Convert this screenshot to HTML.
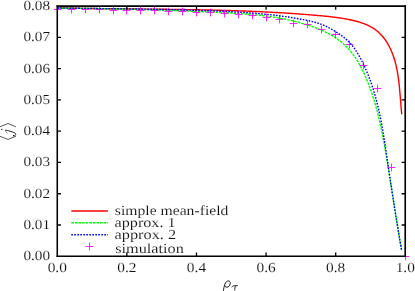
<!DOCTYPE html>
<html><head><meta charset="utf-8"><title>plot</title>
<style>
html,body{margin:0;padding:0;background:#fff;}
body{width:415px;height:291px;overflow:hidden;font-family:"Liberation Serif",serif;}
svg{display:block;}
text{font-family:"Liberation Serif",serif;font-size:13.8px;fill:#111;text-rendering:geometricPrecision;stroke:#fff;stroke-width:0.1px;}
</style></head><body>
<svg width="415" height="291" viewBox="0 0 415 291">
<rect width="415" height="291" fill="#fff"/>
<g style="will-change:transform">
<!-- curves -->
<path d="M57.32,7.83 L58.35,7.86 L59.38,7.88 L60.41,7.91 L61.44,7.93 L62.47,7.95 L63.50,7.98 L64.53,8.00 L65.56,8.03 L66.59,8.05 L67.62,8.07 L68.65,8.09 L69.69,8.11 L70.72,8.14 L71.75,8.16 L72.78,8.18 L73.81,8.20 L74.84,8.22 L75.87,8.24 L76.90,8.26 L77.93,8.28 L78.96,8.29 L79.99,8.31 L81.02,8.33 L82.06,8.35 L83.09,8.37 L84.12,8.38 L85.15,8.40 L86.18,8.42 L87.21,8.43 L88.24,8.45 L89.27,8.47 L90.31,8.48 L91.34,8.50 L92.37,8.51 L93.40,8.53 L94.43,8.54 L95.46,8.56 L96.49,8.57 L97.53,8.58 L98.56,8.60 L99.59,8.61 L100.62,8.62 L101.65,8.64 L102.69,8.65 L103.72,8.66 L104.75,8.68 L105.78,8.69 L106.81,8.70 L107.84,8.71 L108.88,8.73 L109.91,8.74 L110.94,8.75 L111.97,8.76 L113.01,8.77 L114.04,8.78 L115.07,8.80 L116.10,8.81 L117.13,8.82 L118.17,8.83 L119.20,8.84 L120.23,8.85 L121.26,8.86 L122.30,8.87 L123.33,8.88 L124.36,8.89 L125.39,8.90 L126.42,8.91 L127.46,8.92 L128.49,8.93 L129.52,8.94 L130.55,8.95 L131.59,8.96 L132.62,8.97 L133.65,8.98 L134.68,8.99 L135.72,9.00 L136.75,9.01 L137.78,9.02 L138.82,9.03 L139.85,9.04 L140.88,9.05 L141.91,9.06 L142.95,9.07 L143.98,9.08 L145.01,9.09 L146.04,9.10 L147.08,9.11 L148.11,9.12 L149.14,9.13 L150.17,9.14 L151.21,9.15 L152.24,9.16 L153.27,9.17 L154.31,9.18 L155.34,9.20 L156.37,9.21 L157.40,9.22 L158.44,9.23 L159.47,9.24 L160.50,9.25 L161.53,9.26 L162.57,9.27 L163.60,9.28 L164.63,9.30 L165.67,9.31 L166.70,9.32 L167.73,9.33 L168.76,9.34 L169.80,9.36 L170.83,9.37 L171.86,9.38 L172.89,9.39 L173.93,9.41 L174.96,9.42 L175.99,9.43 L177.03,9.45 L178.06,9.46 L179.09,9.48 L180.12,9.49 L181.16,9.51 L182.19,9.52 L183.22,9.53 L184.25,9.55 L185.29,9.57 L186.32,9.58 L187.35,9.60 L188.39,9.61 L189.42,9.63 L190.45,9.65 L191.48,9.66 L192.52,9.68 L193.55,9.70 L194.58,9.72 L195.61,9.73 L196.65,9.75 L197.68,9.77 L198.71,9.79 L199.74,9.81 L200.78,9.83 L201.81,9.85 L202.84,9.87 L203.87,9.89 L204.90,9.91 L205.94,9.93 L206.97,9.96 L208.00,9.98 L209.03,10.00 L210.07,10.02 L211.10,10.05 L212.13,10.07 L213.16,10.09 L214.20,10.12 L215.23,10.14 L216.26,10.17 L217.29,10.19 L218.32,10.22 L219.36,10.25 L220.39,10.27 L221.42,10.30 L222.45,10.33 L223.48,10.36 L224.52,10.39 L225.55,10.41 L226.58,10.44 L227.61,10.47 L228.64,10.50 L229.67,10.54 L230.71,10.57 L231.74,10.60 L232.77,10.63 L233.80,10.66 L234.83,10.70 L235.86,10.73 L236.89,10.76 L237.93,10.80 L238.96,10.84 L239.99,10.87 L241.02,10.91 L242.05,10.94 L243.08,10.98 L244.11,11.02 L245.15,11.06 L246.18,11.10 L247.21,11.14 L248.24,11.18 L249.27,11.22 L250.30,11.26 L251.33,11.30 L252.36,11.34 L253.39,11.39 L254.42,11.43 L255.45,11.48 L256.48,11.52 L257.52,11.57 L258.55,11.61 L259.58,11.66 L260.61,11.71 L261.64,11.76 L262.67,11.80 L263.70,11.85 L264.73,11.90 L265.76,11.95 L266.79,12.01 L267.82,12.06 L268.85,12.11 L269.88,12.16 L270.91,12.22 L271.94,12.27 L272.97,12.33 L274.00,12.39 L275.03,12.44 L276.06,12.50 L277.09,12.56 L278.12,12.62 L279.15,12.68 L280.18,12.74 L281.21,12.80 L282.23,12.86 L283.26,12.92 L284.29,12.99 L285.32,13.05 L286.35,13.12 L287.38,13.18 L288.41,13.25 L289.44,13.32 L290.47,13.38 L291.50,13.45 L292.52,13.52 L293.55,13.59 L294.58,13.67 L295.61,13.74 L296.64,13.81 L297.67,13.88 L298.70,13.96 L299.72,14.03 L300.75,14.11 L301.78,14.19 L302.81,14.27 L303.84,14.34 L304.86,14.42 L305.89,14.51 L306.92,14.59 L307.95,14.67 L308.97,14.75 L310.00,14.84 L311.03,14.92 L312.06,15.01 L313.08,15.09 L314.11,15.18 L315.14,15.27 L316.17,15.36 L317.19,15.45 L318.22,15.54 L319.25,15.63 L320.27,15.73 L321.30,15.82 L322.33,15.92 L323.35,16.01 L324.38,16.11 L325.41,16.21 L326.43,16.32 L327.46,16.42 L328.48,16.53 L329.51,16.64 L330.54,16.75 L331.57,16.87 L332.59,16.99 L333.62,17.11 L334.65,17.24 L335.67,17.37 L336.70,17.51 L337.73,17.65 L338.76,17.79 L339.78,17.94 L340.81,18.10 L341.84,18.26 L342.87,18.43 L343.90,18.60 L344.93,18.78 L345.96,18.96 L346.99,19.15 L348.02,19.35 L349.05,19.56 L350.08,19.77 L351.11,19.99 L352.14,20.22 L353.17,20.45 L354.20,20.70 L355.22,20.95 L356.25,21.22 L357.27,21.49 L358.29,21.78 L359.30,22.08 L360.30,22.39 L361.30,22.71 L362.30,23.05 L363.28,23.40 L364.26,23.77 L365.23,24.15 L366.19,24.54 L367.14,24.96 L368.08,25.38 L369.01,25.83 L369.93,26.30 L370.84,26.78 L371.73,27.28 L372.61,27.80 L373.47,28.34 L374.32,28.90 L375.16,29.48 L375.97,30.09 L376.77,30.71 L377.56,31.36 L378.32,32.03 L379.07,32.72 L379.81,33.43 L380.52,34.16 L381.22,34.90 L381.91,35.66 L382.57,36.44 L383.22,37.23 L383.86,38.03 L384.47,38.85 L385.07,39.68 L385.66,40.52 L386.23,41.37 L386.78,42.22 L387.32,43.09 L387.84,43.97 L388.35,44.85 L388.84,45.74 L389.31,46.64 L389.78,47.55 L390.22,48.47 L390.66,49.39 L391.08,50.32 L391.48,51.25 L391.88,52.19 L392.26,53.14 L392.63,54.10 L392.98,55.06 L393.33,56.03 L393.66,57.00 L393.98,57.97 L394.29,58.96 L394.59,59.95 L394.87,60.94 L395.15,61.93 L395.42,62.94 L395.67,63.94 L395.92,64.95 L396.16,65.97 L396.39,66.98 L396.61,68.00 L396.82,69.03 L397.02,70.05 L397.22,71.08 L397.41,72.12 L397.59,73.15 L397.76,74.19 L397.93,75.23 L398.08,76.27 L398.24,77.31 L398.38,78.35 L398.53,79.40 L398.66,80.45 L398.79,81.49 L398.92,82.54 L399.04,83.59 L399.15,84.64 L399.26,85.69 L399.37,86.73 L399.48,87.78 L399.58,88.83 L399.67,89.88 L399.77,90.92 L399.86,91.97 L399.95,93.01 L400.04,94.05 L400.12,95.09 L400.21,96.13 L400.29,97.17 L400.37,98.20 L400.45,99.24 L400.53,100.27 L400.62,101.29 L400.70,102.31 L400.78,103.33 L400.86,104.35 L400.94,105.36 L401.03,106.37 L401.11,107.38 L401.20,108.38 L401.29,109.37 L401.38,110.36 L401.47,111.35 L401.57,112.33 L401.67,113.31 L401.77,114.28" stroke="#ff0000" stroke-width="1.4" fill="none" stroke-linejoin="round"/>
<path d="M57.27,8.14 L58.55,8.15 L59.83,8.16 L61.12,8.17 L62.40,8.18 L63.68,8.19 L64.96,8.20 L66.24,8.22 L67.52,8.23 L68.80,8.24 L70.08,8.26 L71.37,8.27 L72.65,8.28 L73.93,8.30 L75.21,8.31 L76.48,8.33 L77.76,8.34 L79.04,8.36 L80.32,8.37 L81.60,8.39 L82.88,8.41 L84.16,8.42 L85.44,8.44 L86.72,8.46 L87.99,8.48 L89.27,8.50 L90.55,8.52 L91.83,8.53 L93.10,8.55 L94.38,8.57 L95.66,8.59 L96.94,8.62 L98.21,8.64 L99.49,8.66 L100.77,8.68 L102.04,8.70 L103.32,8.72 L104.60,8.75 L105.87,8.77 L107.15,8.79 L108.42,8.82 L109.70,8.84 L110.98,8.87 L112.25,8.89 L113.53,8.92 L114.80,8.94 L116.08,8.97 L117.35,9.00 L118.63,9.02 L119.90,9.05 L121.18,9.08 L122.45,9.11 L123.73,9.14 L125.00,9.16 L126.28,9.19 L127.55,9.22 L128.83,9.25 L130.10,9.28 L131.38,9.32 L132.65,9.35 L133.93,9.38 L135.20,9.41 L136.48,9.44 L137.75,9.48 L139.03,9.51 L140.30,9.54 L141.57,9.58 L142.85,9.61 L144.12,9.65 L145.40,9.68 L146.67,9.72 L147.95,9.75 L149.22,9.79 L150.50,9.82 L151.77,9.86 L153.05,9.90 L154.32,9.94 L155.59,9.98 L156.87,10.01 L158.14,10.05 L159.42,10.09 L160.69,10.13 L161.97,10.17 L163.24,10.21 L164.52,10.26 L165.79,10.30 L167.07,10.34 L168.34,10.38 L169.62,10.42 L170.89,10.47 L172.17,10.51 L173.44,10.56 L174.72,10.60 L176.00,10.64 L177.27,10.69 L178.55,10.74 L179.82,10.78 L181.10,10.83 L182.37,10.88 L183.65,10.92 L184.93,10.97 L186.20,11.02 L187.48,11.07 L188.76,11.12 L190.03,11.17 L191.31,11.22 L192.59,11.27 L193.86,11.32 L195.14,11.37 L196.42,11.42 L197.70,11.47 L198.97,11.53 L200.25,11.58 L201.53,11.63 L202.81,11.69 L204.09,11.74 L205.36,11.79 L206.64,11.85 L207.92,11.90 L209.20,11.96 L210.48,12.02 L211.76,12.07 L213.04,12.13 L214.32,12.19 L215.60,12.25 L216.88,12.31 L218.16,12.37 L219.44,12.43 L220.72,12.49 L222.00,12.55 L223.28,12.61 L224.56,12.67 L225.84,12.74 L227.12,12.81 L228.40,12.87 L229.68,12.94 L230.96,13.02 L232.24,13.09 L233.52,13.16 L234.80,13.24 L236.08,13.32 L237.36,13.40 L238.64,13.49 L239.92,13.57 L241.19,13.66 L242.47,13.76 L243.75,13.85 L245.03,13.95 L246.30,14.05 L247.58,14.15 L248.85,14.26 L250.13,14.37 L251.40,14.48 L252.68,14.60 L253.95,14.72 L255.22,14.85 L256.49,14.98 L257.76,15.11 L259.03,15.25 L260.30,15.39 L261.57,15.54 L262.84,15.69 L264.10,15.84 L265.37,16.00 L266.64,16.17 L267.90,16.34 L269.16,16.51 L270.42,16.69 L271.68,16.88 L272.94,17.07 L274.20,17.26 L275.46,17.47 L276.72,17.67 L277.97,17.89 L279.23,18.11 L280.48,18.33 L281.73,18.56 L282.98,18.80 L284.23,19.05 L285.48,19.30 L286.72,19.55 L287.97,19.82 L289.21,20.09 L290.45,20.37 L291.69,20.65 L292.93,20.94 L294.17,21.24 L295.40,21.55 L296.64,21.86 L297.87,22.19 L299.10,22.52 L300.33,22.85 L301.56,23.20 L302.78,23.55 L304.01,23.91 L305.23,24.28 L306.45,24.66 L307.67,25.05 L308.88,25.44 L310.10,25.85 L311.31,26.26 L312.52,26.68 L313.73,27.12 L314.93,27.56 L316.13,28.01 L317.33,28.47 L318.52,28.95 L319.71,29.43 L320.89,29.93 L322.07,30.45 L323.23,30.97 L324.40,31.51 L325.55,32.06 L326.70,32.63 L327.83,33.21 L328.96,33.81 L330.08,34.43 L331.19,35.06 L332.29,35.71 L333.37,36.38 L334.45,37.06 L335.51,37.76 L336.56,38.49 L337.60,39.23 L338.63,39.98 L339.64,40.76 L340.64,41.55 L341.62,42.36 L342.59,43.19 L343.54,44.04 L344.48,44.90 L345.41,45.78 L346.32,46.67 L347.21,47.59 L348.08,48.51 L348.94,49.46 L349.78,50.41 L350.61,51.39 L351.42,52.37 L352.21,53.38 L352.99,54.39 L353.75,55.42 L354.49,56.46 L355.22,57.51 L355.93,58.57 L356.63,59.64 L357.31,60.73 L357.97,61.82 L358.62,62.92 L359.25,64.03 L359.87,65.15 L360.48,66.28 L361.08,67.41 L361.66,68.55 L362.23,69.70 L362.79,70.85 L363.35,72.01 L363.89,73.17 L364.42,74.33 L364.94,75.50 L365.46,76.67 L365.96,77.84 L366.46,79.02 L366.95,80.20 L367.44,81.38 L367.91,82.56 L368.38,83.75 L368.84,84.94 L369.30,86.13 L369.74,87.32 L370.18,88.52 L370.61,89.72 L371.04,90.92 L371.46,92.12 L371.87,93.33 L372.27,94.53 L372.67,95.74 L373.06,96.96 L373.45,98.17 L373.83,99.39 L374.20,100.60 L374.57,101.82 L374.93,103.04 L375.28,104.27 L375.63,105.49 L375.98,106.72 L376.32,107.95 L376.65,109.18 L376.98,110.41 L377.30,111.65 L377.62,112.88 L377.93,114.12 L378.24,115.36 L378.54,116.59 L378.84,117.84 L379.14,119.08 L379.43,120.32 L379.71,121.57 L380.00,122.81 L380.27,124.06 L380.55,125.31 L380.82,126.56 L381.08,127.81 L381.35,129.06 L381.61,130.31 L381.86,131.57 L382.11,132.82 L382.36,134.08 L382.61,135.33 L382.85,136.59 L383.09,137.85 L383.33,139.10 L383.56,140.36 L383.80,141.62 L384.03,142.88 L384.25,144.14 L384.48,145.40 L384.70,146.66 L384.92,147.93 L385.14,149.19 L385.36,150.45 L385.57,151.71 L385.79,152.97 L386.00,154.24 L386.21,155.50 L386.42,156.76 L386.63,158.03 L386.84,159.29 L387.04,160.55 L387.25,161.82 L387.45,163.08 L387.66,164.34 L387.86,165.60 L388.06,166.87 L388.27,168.13 L388.47,169.39 L388.67,170.65 L388.87,171.91 L389.07,173.17 L389.27,174.43 L389.47,175.70 L389.68,176.96 L389.88,178.22 L390.07,179.48 L390.27,180.74 L390.47,182.00 L390.67,183.26 L390.87,184.52 L391.07,185.78 L391.27,187.04 L391.47,188.30 L391.67,189.56 L391.86,190.81 L392.06,192.07 L392.26,193.33 L392.46,194.59 L392.66,195.85 L392.86,197.11 L393.06,198.37 L393.25,199.63 L393.45,200.89 L393.65,202.15 L393.85,203.41 L394.05,204.66 L394.25,205.92 L394.45,207.18 L394.65,208.44 L394.85,209.70 L395.05,210.96 L395.25,212.22 L395.45,213.48 L395.66,214.74 L395.86,216.00 L396.06,217.26 L396.26,218.52 L396.47,219.78 L396.67,221.03 L396.88,222.29 L397.08,223.55 L397.29,224.81 L397.49,226.08 L397.70,227.34 L397.91,228.60 L398.11,229.86 L398.32,231.12 L398.53,232.38 L398.74,233.64 L398.95,234.90 L399.17,236.16 L399.38,237.43 L399.59,238.69 L399.81,239.95 L400.02,241.21 L400.24,242.47 L400.45,243.74 L400.67,245.00 L400.89,246.26 L401.11,247.53 L401.33,248.79 L401.55,250.06" stroke="#00ff00" stroke-width="1.4" fill="none" stroke-dasharray="2.6 1.0"/>
<!-- simulation points -->
<path d="M53.60,9.50H61.40M57.50,5.60V13.40M67.60,9.50H75.40M71.50,5.60V13.40M81.60,9.50H89.40M85.50,5.60V13.40M95.60,9.50H103.40M99.50,5.60V13.40M109.60,10.50H117.40M113.50,6.60V14.40M122.60,10.50H130.40M126.50,6.60V14.40M136.60,10.50H144.40M140.50,6.60V14.40M150.60,10.50H158.40M154.50,6.60V14.40M164.60,11.50H172.40M168.50,7.60V15.40M178.60,11.50H186.40M182.50,7.60V15.40M192.60,12.50H200.40M196.50,8.60V16.40M206.60,12.50H214.40M210.50,8.60V16.40M220.60,13.50H228.40M224.50,9.60V17.40M234.60,14.50H242.40M238.50,10.60V18.40M248.60,15.50H256.40M252.50,11.60V19.40M262.60,17.50H270.40M266.50,13.60V21.40M275.60,19.50H283.40M279.50,15.60V23.40M289.60,23.50H297.40M293.50,19.60V27.40M303.60,24.50H311.40M307.50,20.60V28.40M317.60,29.50H325.40M321.50,25.60V33.40M331.60,34.50H339.40M335.50,30.60V38.40M345.60,44.50H353.40M349.50,40.60V48.40M359.60,65.50H367.40M363.50,61.60V69.40M373.60,88.50H381.40M377.50,84.60V92.40M387.60,167.50H395.40M391.50,163.60V171.40M401.60,256.50H409.40M405.50,252.60V260.40" stroke="#ff00ff" stroke-width="0.85" fill="none"/>
<path d="M57.29,7.98 L58.59,8.00 L59.88,8.02 L61.17,8.04 L62.46,8.07 L63.75,8.09 L65.05,8.11 L66.34,8.13 L67.63,8.14 L68.92,8.16 L70.21,8.18 L71.50,8.20 L72.80,8.22 L74.09,8.24 L75.38,8.26 L76.67,8.27 L77.96,8.29 L79.25,8.31 L80.54,8.33 L81.84,8.34 L83.13,8.36 L84.42,8.38 L85.71,8.39 L87.00,8.41 L88.29,8.42 L89.58,8.44 L90.87,8.46 L92.17,8.47 L93.46,8.49 L94.75,8.50 L96.04,8.52 L97.33,8.54 L98.62,8.55 L99.91,8.57 L101.20,8.58 L102.49,8.60 L103.78,8.61 L105.08,8.63 L106.37,8.64 L107.66,8.66 L108.95,8.67 L110.24,8.69 L111.53,8.70 L112.82,8.72 L114.11,8.74 L115.40,8.75 L116.69,8.77 L117.98,8.78 L119.27,8.80 L120.56,8.82 L121.85,8.83 L123.15,8.85 L124.44,8.86 L125.73,8.88 L127.02,8.90 L128.31,8.92 L129.60,8.93 L130.89,8.95 L132.18,8.97 L133.47,8.99 L134.76,9.00 L136.05,9.02 L137.34,9.04 L138.63,9.06 L139.92,9.08 L141.21,9.10 L142.50,9.12 L143.79,9.14 L145.08,9.16 L146.37,9.18 L147.66,9.20 L148.95,9.22 L150.25,9.24 L151.54,9.26 L152.83,9.28 L154.12,9.31 L155.41,9.33 L156.70,9.35 L157.99,9.38 L159.28,9.40 L160.57,9.43 L161.86,9.45 L163.15,9.48 L164.44,9.50 L165.73,9.53 L167.02,9.56 L168.31,9.58 L169.60,9.61 L170.89,9.64 L172.18,9.67 L173.47,9.70 L174.76,9.73 L176.05,9.76 L177.34,9.79 L178.63,9.82 L179.93,9.85 L181.22,9.89 L182.51,9.92 L183.80,9.95 L185.09,9.99 L186.38,10.02 L187.67,10.06 L188.96,10.10 L190.25,10.13 L191.54,10.17 L192.83,10.21 L194.12,10.25 L195.41,10.29 L196.70,10.33 L197.99,10.37 L199.28,10.41 L200.57,10.45 L201.87,10.50 L203.16,10.54 L204.45,10.59 L205.74,10.63 L207.03,10.68 L208.32,10.73 L209.61,10.77 L210.90,10.82 L212.19,10.87 L213.48,10.92 L214.77,10.97 L216.07,11.03 L217.36,11.08 L218.65,11.13 L219.94,11.19 L221.23,11.24 L222.52,11.30 L223.81,11.36 L225.10,11.42 L226.39,11.48 L227.68,11.54 L228.98,11.61 L230.27,11.67 L231.56,11.74 L232.85,11.81 L234.14,11.88 L235.43,11.95 L236.72,12.02 L238.01,12.10 L239.30,12.17 L240.59,12.25 L241.88,12.33 L243.16,12.42 L244.45,12.50 L245.74,12.59 L247.03,12.68 L248.32,12.77 L249.61,12.87 L250.90,12.96 L252.18,13.06 L253.47,13.16 L254.76,13.27 L256.04,13.37 L257.33,13.48 L258.62,13.59 L259.90,13.71 L261.19,13.83 L262.47,13.95 L263.76,14.07 L265.04,14.20 L266.33,14.33 L267.61,14.46 L268.89,14.60 L270.17,14.74 L271.46,14.88 L272.74,15.02 L274.02,15.17 L275.30,15.33 L276.58,15.48 L277.86,15.64 L279.14,15.81 L280.42,15.97 L281.70,16.14 L282.98,16.32 L284.25,16.50 L285.53,16.68 L286.81,16.87 L288.08,17.06 L289.36,17.25 L290.63,17.45 L291.91,17.65 L293.18,17.86 L294.45,18.07 L295.73,18.29 L297.00,18.51 L298.27,18.74 L299.54,18.97 L300.81,19.20 L302.08,19.44 L303.35,19.68 L304.61,19.93 L305.88,20.18 L307.15,20.44 L308.41,20.71 L309.67,20.99 L310.93,21.27 L312.18,21.57 L313.43,21.88 L314.68,22.21 L315.92,22.55 L317.15,22.91 L318.37,23.29 L319.59,23.68 L320.80,24.11 L322.00,24.55 L323.19,25.02 L324.36,25.52 L325.53,26.04 L326.69,26.59 L327.84,27.16 L328.98,27.76 L330.11,28.38 L331.23,29.01 L332.35,29.66 L333.47,30.33 L334.58,31.00 L335.69,31.69 L336.79,32.39 L337.89,33.10 L338.99,33.83 L340.07,34.57 L341.14,35.32 L342.20,36.09 L343.24,36.87 L344.27,37.68 L345.27,38.50 L346.25,39.35 L347.21,40.22 L348.15,41.11 L349.05,42.03 L349.94,42.96 L350.80,43.92 L351.63,44.90 L352.45,45.89 L353.24,46.90 L354.02,47.93 L354.77,48.98 L355.51,50.04 L356.22,51.11 L356.92,52.20 L357.60,53.30 L358.27,54.41 L358.92,55.53 L359.56,56.65 L360.19,57.79 L360.80,58.93 L361.40,60.08 L361.99,61.23 L362.57,62.39 L363.14,63.55 L363.70,64.71 L364.25,65.88 L364.79,67.05 L365.32,68.22 L365.84,69.40 L366.36,70.58 L366.86,71.77 L367.35,72.95 L367.84,74.14 L368.32,75.34 L368.79,76.53 L369.25,77.73 L369.70,78.93 L370.15,80.14 L370.58,81.35 L371.01,82.56 L371.43,83.77 L371.84,84.99 L372.25,86.20 L372.65,87.42 L373.04,88.65 L373.42,89.87 L373.80,91.10 L374.17,92.33 L374.53,93.57 L374.89,94.80 L375.24,96.04 L375.58,97.28 L375.92,98.52 L376.25,99.76 L376.58,101.01 L376.90,102.25 L377.21,103.50 L377.52,104.75 L377.82,106.01 L378.12,107.26 L378.41,108.52 L378.70,109.78 L378.98,111.04 L379.26,112.30 L379.53,113.56 L379.80,114.82 L380.07,116.09 L380.32,117.36 L380.58,118.62 L380.83,119.89 L381.08,121.16 L381.32,122.43 L381.56,123.71 L381.80,124.98 L382.03,126.26 L382.26,127.53 L382.48,128.81 L382.70,130.08 L382.92,131.36 L383.14,132.64 L383.35,133.92 L383.57,135.20 L383.78,136.48 L383.98,137.76 L384.19,139.04 L384.39,140.32 L384.59,141.61 L384.79,142.89 L384.98,144.17 L385.18,145.45 L385.37,146.74 L385.57,148.02 L385.76,149.30 L385.95,150.59 L386.14,151.87 L386.32,153.15 L386.51,154.44 L386.70,155.72 L386.89,157.00 L387.07,158.28 L387.26,159.56 L387.44,160.85 L387.63,162.13 L387.82,163.41 L388.00,164.69 L388.19,165.97 L388.38,167.25 L388.56,168.52 L388.75,169.80 L388.94,171.08 L389.13,172.35 L389.32,173.63 L389.51,174.91 L389.70,176.18 L389.89,177.45 L390.08,178.73 L390.28,180.00 L390.47,181.28 L390.66,182.55 L390.85,183.82 L391.05,185.09 L391.24,186.37 L391.44,187.64 L391.63,188.91 L391.83,190.18 L392.02,191.45 L392.22,192.72 L392.42,193.99 L392.61,195.26 L392.81,196.54 L393.01,197.81 L393.21,199.08 L393.41,200.35 L393.61,201.62 L393.81,202.89 L394.01,204.16 L394.21,205.43 L394.41,206.70 L394.61,207.97 L394.81,209.24 L395.02,210.51 L395.22,211.78 L395.42,213.05 L395.63,214.33 L395.83,215.60 L396.04,216.87 L396.24,218.14 L396.45,219.41 L396.65,220.69 L396.86,221.96 L397.07,223.23 L397.27,224.51 L397.48,225.78 L397.69,227.06 L397.90,228.33 L398.11,229.61 L398.32,230.88 L398.53,232.16 L398.74,233.44 L398.95,234.71 L399.16,235.99 L399.37,237.27 L399.58,238.55 L399.80,239.83 L400.01,241.11 L400.22,242.39 L400.44,243.67 L400.65,244.96 L400.87,246.24 L401.08,247.53 L401.30,248.81 L401.51,250.10" stroke="#0000ff" stroke-width="1.4" fill="none" stroke-dasharray="1.6 1.4"/>
<!-- legend -->
<path d="M71.3,211.0H107.9" stroke="#ff0000" stroke-width="1.5"/>
<path d="M71.3,222.8H107.9" stroke="#00ff00" stroke-width="1.4" stroke-dasharray="2.6 1.0"/>
<path d="M71.3,234.7H107.9" stroke="#0000ff" stroke-width="1.4" stroke-dasharray="1.6 1.4"/>
<path d="M85.50,246.50H93.50M89.50,242.50V250.50" stroke="#ff00ff" stroke-width="0.85" fill="none"/>
<text x="114.8" y="215.2" textLength="113.6" lengthAdjust="spacingAndGlyphs">simple mean-field</text>
<text x="114.6" y="226.8" textLength="61" lengthAdjust="spacingAndGlyphs">approx. 1</text>
<text x="114.6" y="238.8" textLength="61.5" lengthAdjust="spacingAndGlyphs">approx. 2</text>
<text x="115.2" y="252.7" textLength="68.6" lengthAdjust="spacingAndGlyphs">simulation</text>
<!-- axes -->
<path d="M57.25,225.01h3.7M405.3,225.01h-3.7M57.25,193.73h3.7M405.3,193.73h-3.7M57.25,162.44h3.7M405.3,162.44h-3.7M57.25,131.15h3.7M405.3,131.15h-3.7M57.25,99.86h3.7M405.3,99.86h-3.7M57.25,68.58h3.7M405.3,68.58h-3.7M57.25,37.29h3.7M405.3,37.29h-3.7M126.86,256.3v-3.7M126.86,6.0v3.7M196.47,256.3v-3.7M196.47,6.0v3.7M266.08,256.3v-3.7M266.08,6.0v3.7M335.69,256.3v-3.7M335.69,6.0v3.7" stroke="#000" stroke-width="1.3" fill="none"/>
<path d="M56.5,6.15H406.05" stroke="#000" stroke-width="1.7" fill="none"/>
<path d="M56.5,256.2H406.05" stroke="#000" stroke-width="1.6" fill="none"/>
<path d="M57.27,5.3V257" stroke="#000" stroke-width="1.55" fill="none"/>
<path d="M405.22,5.3V257" stroke="#000" stroke-width="1.65" fill="none"/>
<!-- tick labels -->
<text x="50.0" y="260.35" text-anchor="end" textLength="26.6" lengthAdjust="spacingAndGlyphs">0.00</text>
<text x="50.0" y="229.06" text-anchor="end" textLength="26.6" lengthAdjust="spacingAndGlyphs">0.01</text>
<text x="50.0" y="197.78" text-anchor="end" textLength="26.6" lengthAdjust="spacingAndGlyphs">0.02</text>
<text x="50.0" y="166.49" text-anchor="end" textLength="26.6" lengthAdjust="spacingAndGlyphs">0.03</text>
<text x="50.0" y="135.20" text-anchor="end" textLength="26.6" lengthAdjust="spacingAndGlyphs">0.04</text>
<text x="50.0" y="103.91" text-anchor="end" textLength="26.6" lengthAdjust="spacingAndGlyphs">0.05</text>
<text x="50.0" y="72.63" text-anchor="end" textLength="26.6" lengthAdjust="spacingAndGlyphs">0.06</text>
<text x="50.0" y="41.34" text-anchor="end" textLength="26.6" lengthAdjust="spacingAndGlyphs">0.07</text>
<text x="50.0" y="10.05" text-anchor="end" textLength="26.6" lengthAdjust="spacingAndGlyphs">0.08</text>
<text x="57.25" y="272.25" text-anchor="middle" textLength="19.2" lengthAdjust="spacingAndGlyphs">0.0</text>
<text x="126.86" y="272.25" text-anchor="middle" textLength="19.2" lengthAdjust="spacingAndGlyphs">0.2</text>
<text x="196.47" y="272.25" text-anchor="middle" textLength="19.2" lengthAdjust="spacingAndGlyphs">0.4</text>
<text x="266.08" y="272.25" text-anchor="middle" textLength="19.2" lengthAdjust="spacingAndGlyphs">0.6</text>
<text x="335.69" y="272.25" text-anchor="middle" textLength="19.2" lengthAdjust="spacingAndGlyphs">0.8</text>
<text x="405.30" y="272.25" text-anchor="middle" textLength="19.2" lengthAdjust="spacingAndGlyphs">1.0</text>

<!-- axis labels -->
<path d="M223.2,291.8 C223.6,289 224.2,286 224.9,284.2 C225.6,282.2 227,280.9 228.3,280.9 C229.9,280.9 230.5,282.2 230.2,283.8 C229.9,285.7 228.6,287.2 227,287.2 C225.6,287.2 224.8,286.4 224.7,285.2" stroke="#1a1a1a" stroke-width="1.0" fill="none"/>
<path d="M231.9,287.3 C232.3,286.2 233,285.8 234,285.8 L237.9,285.7" stroke="#1a1a1a" stroke-width="0.9" fill="none"/>
<path d="M235.4,285.9 C235,287.5 234.5,288.8 234.8,290" stroke="#1a1a1a" stroke-width="0.9" fill="none" stroke-linecap="round"/>
<g transform="translate(12.8,131.2) rotate(-90)">
<path d="M-4.85,-13.5L-8.2,-4.8L-5.1,3.1M4.15,-13.5L7.7,-4.8L4.4,3.1" stroke="#222" stroke-width="0.75" fill="none"/>
</g>
<path d="M5.7,130.1 C8,130.5 12,131.7 14.5,132.8 C15.8,133.4 16.1,134.5 15.3,135.3 C14.7,135.9 13.9,136.1 13.3,135.7" stroke="#1a1a1a" stroke-width="0.95" fill="none" stroke-linecap="round"/>
<path d="M7.7,133.3 C6.3,132.7 5.2,131.5 5.7,130.1" stroke="#1a1a1a" stroke-width="0.5" fill="none"/>
<circle cx="1.8" cy="129.4" r="0.65" fill="#1a1a1a"/>
<circle cx="13.5" cy="135.4" r="0.55" fill="#1a1a1a"/>
</g>
</svg>
</body></html>
